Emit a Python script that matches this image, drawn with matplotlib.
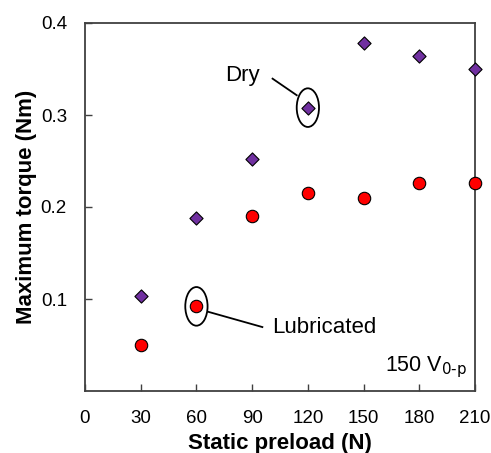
import matplotlib
matplotlib.use("Agg")
import matplotlib.pyplot as plt
from matplotlib.patches import Ellipse

plt.rcParams['font.family'] = ['Liberation Sans', 'DejaVu Sans']

preload = [30, 60, 90, 120, 150, 180, 210]
dry = [0.103, 0.188, 0.252, 0.308, 0.378, 0.364, 0.350]
lubricated = [0.050, 0.092, 0.190, 0.215, 0.210, 0.226, 0.226]
xticks = [0, 30, 60, 90, 120, 150, 180, 210]
yticks = [0.1, 0.2, 0.3, 0.4]

fig = plt.figure(figsize=(4.91, 4.53), dpi=100)
ax = fig.add_axes([85/491, 1-391/453, 390/491, 368/453])

ax.scatter(preload, dry, marker='D', s=45, color='#7030A0', edgecolors='black', linewidths=0.8, zorder=3, clip_on=False)
ax.scatter(preload, lubricated, marker='o', s=80, color='#FF0000', edgecolors='black', linewidths=0.8, zorder=3, clip_on=False)

ax.set_xlim(0, 210)
ax.set_ylim(0, 0.4)
ax.set_xticks(xticks)
ax.set_xticklabels([str(t) for t in xticks])
ax.set_yticks(yticks)
ax.set_yticklabels([f"{t:.1f}" for t in yticks])
ax.tick_params(direction='in', length=5, labelsize=13.5, width=1, color='#404040')
ax.tick_params(axis='x', pad=14)
ax.tick_params(axis='y', pad=13)
for s in ax.spines.values():
    s.set_linewidth(1.3)
    s.set_color('#404040')

ax.set_xlabel('Static preload (N)', fontsize=16, fontweight='bold', labelpad=4)
ax.set_ylabel('Maximum torque (Nm)', fontsize=16, fontweight='bold', labelpad=3)

# annotations
ax.add_patch(Ellipse((120, 0.308), 12, 0.042, fill=False, lw=1.3, color='black', zorder=4))
ax.plot([114, 101], [0.3215, 0.3395], color='black', lw=1.3)
ax.text(85, 0.343, 'Dry', fontsize=16, ha='center', va='center')

ax.add_patch(Ellipse((60, 0.092), 12, 0.042, fill=False, lw=1.3, color='black', zorder=4))
ax.plot([66.5, 95.5], [0.086, 0.0695], color='black', lw=1.3)
ax.text(101, 0.069, 'Lubricated', fontsize=16, ha='left', va='center')

ax.text(206, 0.026, r'150 V$_{\mathrm{0\text{-}p}}$', fontsize=15.5, ha='right', va='center')

fig.savefig('out.png', dpi=100)
